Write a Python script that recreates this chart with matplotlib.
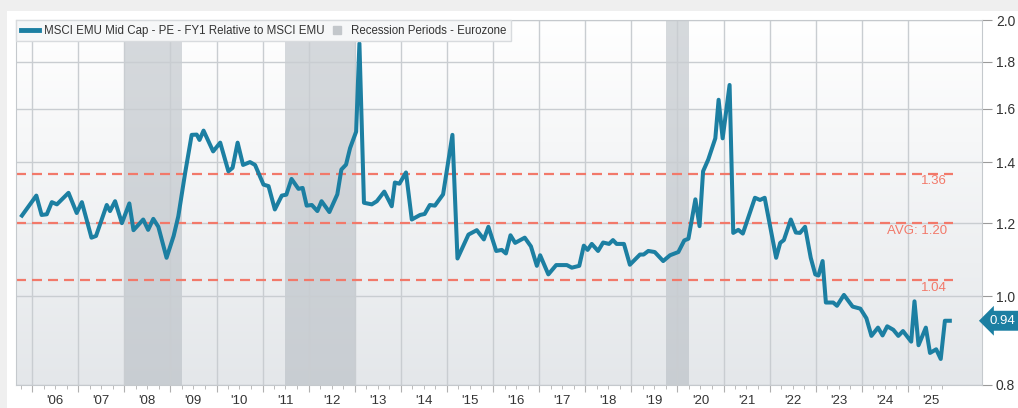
import matplotlib
matplotlib.use('Agg')
import matplotlib.pyplot as plt
import matplotlib.dates as mdates
import matplotlib.ticker as mticker
import numpy as np
import pandas as pd

from matplotlib.colors import LinearSegmentedColormap
from matplotlib.lines import Line2D
from matplotlib.patches import Rectangle
from matplotlib.transforms import blended_transform_factory

plt.rcParams['font.family'] = ['Liberation Sans', 'DejaVu Sans']

# MSCI EMU Mid Cap PE (FY1) relative to MSCI EMU
dates = [
    '2005-10-12', '2006-02-03', '2006-03-17', '2006-04-27', '2006-06-06', '2006-07-16',
    '2006-10-16', '2006-12-20', '2007-01-30', '2007-04-16', '2007-05-22', '2007-08-15',
    '2007-09-10', '2007-10-20', '2007-12-13', '2008-02-10', '2008-03-14', '2008-05-30',
    '2008-07-08', '2008-08-18', '2008-09-27', '2008-12-01', '2009-01-26', '2009-03-04',
    '2009-04-27', '2009-06-18', '2009-07-28', '2009-08-19', '2009-09-20', '2009-12-05',
    '2010-01-30', '2010-04-05', '2010-05-08', '2010-06-17', '2010-07-30', '2010-09-23',
    '2010-11-02', '2011-01-08', '2011-02-17', '2011-04-08', '2011-06-02', '2011-07-08',
    '2011-08-18', '2011-10-12', '2011-11-14', '2011-12-16', '2012-01-26', '2012-03-10',
    '2012-04-12', '2012-06-13', '2012-08-15', '2012-09-16', '2012-10-23', '2012-11-24',
    '2013-01-11', '2013-02-06', '2013-03-14', '2013-05-15', '2013-06-24', '2013-08-22',
    '2013-10-20', '2013-11-14', '2013-12-20', '2014-02-10', '2014-03-28', '2014-06-02',
    '2014-07-08', '2014-08-18', '2014-09-27', '2014-12-01', '2015-02-13', '2015-03-25',
    '2015-06-20', '2015-08-25', '2015-10-20', '2015-11-25', '2016-01-26', '2016-03-10',
    '2016-04-12', '2016-05-18', '2016-06-24', '2016-09-08', '2016-10-27', '2016-12-13',
    '2017-01-08', '2017-03-14', '2017-05-15', '2017-08-08', '2017-09-16', '2017-11-14',
    '2017-12-20', '2018-01-19', '2018-02-21', '2018-04-12', '2018-05-22', '2018-07-08',
    '2018-08-08', '2018-09-06', '2018-11-03', '2018-12-20', '2019-03-10', '2019-04-08',
    '2019-05-15', '2019-07-05', '2019-09-10', '2019-11-03', '2020-01-08', '2020-02-24',
    '2020-03-28', '2020-05-22', '2020-06-24', '2020-07-22', '2020-09-01', '2020-10-27',
    '2020-11-22', '2020-12-24', '2021-02-17', '2021-03-18', '2021-04-27', '2021-06-02',
    '2021-09-06', '2021-10-16', '2021-11-22', '2022-02-21', '2022-03-25', '2022-04-23',
    '2022-06-17', '2022-07-27', '2022-08-29', '2022-10-08', '2022-11-22', '2022-12-28',
    '2023-01-22', '2023-02-24', '2023-03-22', '2023-05-19', '2023-06-18', '2023-08-12',
    '2023-10-20', '2023-12-20', '2024-02-06', '2024-03-17', '2024-05-08', '2024-06-13',
    '2024-07-20', '2024-09-06', '2024-10-16', '2024-11-22', '2025-01-26', '2025-02-21',
    '2025-03-25', '2025-05-22', '2025-06-24', '2025-08-12', '2025-09-17', '2025-10-20',
    '2025-11-28',
]
values = [
    1.224, 1.287, 1.226, 1.228, 1.266, 1.259,
    1.296, 1.232, 1.266, 1.158, 1.163, 1.257,
    1.238, 1.269, 1.201, 1.262, 1.180, 1.212,
    1.181, 1.214, 1.190, 1.101, 1.163, 1.222,
    1.362, 1.499, 1.500, 1.480, 1.515, 1.438,
    1.470, 1.368, 1.380, 1.470, 1.390, 1.400,
    1.390, 1.323, 1.318, 1.243, 1.287, 1.290,
    1.342, 1.309, 1.312, 1.255, 1.257, 1.238,
    1.269, 1.235, 1.291, 1.374, 1.391, 1.450,
    1.511, 1.886, 1.264, 1.259, 1.269, 1.300,
    1.253, 1.330, 1.326, 1.364, 1.212, 1.226,
    1.229, 1.257, 1.255, 1.291, 1.499, 1.099,
    1.167, 1.180, 1.153, 1.190, 1.120, 1.123,
    1.113, 1.165, 1.143, 1.158, 1.133, 1.079,
    1.108, 1.056, 1.081, 1.081, 1.074, 1.079,
    1.135, 1.123, 1.140, 1.120, 1.144, 1.140,
    1.151, 1.140, 1.140, 1.082, 1.110, 1.110,
    1.120, 1.117, 1.092, 1.108, 1.117, 1.150,
    1.155, 1.275, 1.192, 1.368, 1.409, 1.486,
    1.637, 1.486, 1.699, 1.172, 1.181, 1.170,
    1.280, 1.273, 1.280, 1.101, 1.143, 1.151,
    1.212, 1.173, 1.172, 1.190, 1.101, 1.056,
    1.053, 1.092, 0.984, 0.984, 0.976, 1.003,
    0.974, 0.969, 0.946, 0.905, 0.924, 0.906,
    0.927, 0.919, 0.905, 0.916, 0.892, 0.987,
    0.884, 0.924, 0.867, 0.875, 0.854, 0.940,
    0.940,
]

recession_starts = ['2008-01-01', '2011-06-28', '2019-10-01']
recession_ends = ['2009-04-01', '2013-01-05', '2020-04-01']

ref_levels = [1.36, 1.20, 1.04]
ref_labels = ['1.36', 'AVG: 1.20', '1.04']
last_value = 0.94

y_ticks = [0.8, 1.0, 1.2, 1.4, 1.6, 1.8, 2.0]
first_year, last_year = 2006, 2025

LINE_COLOR = '#1c7fa2'
REF_COLOR = '#f2796a'
TEXT_COLOR = '#333333'

dates = pd.to_datetime(dates)
x_left = pd.Timestamp('2005-08-26')
x_right = pd.Timestamp('2026-08-10')
ref_end = pd.Timestamp('2025-12-20')

W, H = 1018, 408
fig = plt.figure(figsize=(W / 100, H / 100), dpi=100, facecolor='#efefef')
fig.patches.append(Rectangle((7 / W, 0), 1, 1 - 11 / H, transform=fig.transFigure,
                             fc='white', ec='none', zorder=-10))

pos = [16 / W, 1 - 385 / H, (982 - 16) / W, (385 - 20) / H]

# Gradient behind the plot area
bg = fig.add_axes(pos, zorder=0)
grad = np.linspace(0, 1, 256).reshape(-1, 1)
bg_cmap = LinearSegmentedColormap.from_list('bg', ['#ffffff', '#e4e7ea'])
bg.imshow(grad, aspect='auto', cmap=bg_cmap, extent=(0, 1, 0, 1), origin='upper')
bg.axis('off')

ax = fig.add_axes(pos, zorder=1)
ax.set_facecolor('none')
ax.set_yscale('log')

for start, end in zip(recession_starts, recession_ends):
    ax.axvspan(pd.Timestamp(start), pd.Timestamp(end), color='#aeb5bc', alpha=0.5, lw=0, zorder=0.5)

for level, label in zip(ref_levels, ref_labels):
    ax.hlines(level, x_left, ref_end, colors=REF_COLOR, linestyles=(0, (4.5, 2.7)), lw=1.6, zorder=2)
    ax.annotate(label, xy=(ref_end, level), xytext=(-4, -5.5), textcoords='offset points',
                ha='right', va='center', fontsize=9.5, color=REF_COLOR, zorder=2)

ax.plot(dates, values, color=LINE_COLOR, lw=2.9, solid_joinstyle='round', zorder=3)

ax.set_xlim(x_left, x_right)
ax.set_ylim(0.8, 2.0)

# y axis on the right
ax.yaxis.tick_right()
ax.yaxis.set_major_locator(mticker.FixedLocator(y_ticks))
ax.yaxis.set_major_formatter(mticker.FormatStrFormatter('%.1f'))
ax.yaxis.set_minor_locator(mticker.NullLocator())
ax.tick_params(axis='y', which='major', length=7, width=0.8, color='#9a9a9a', pad=3,
               labelsize=10, labelcolor=TEXT_COLOR)

# x axis: gridlines at year start, labels mid-year, quarterly ticks
year_starts = pd.date_range(f'{first_year}-01-01', f'{last_year}-01-01', freq='YS')
quarter_ticks = pd.date_range(f'{first_year - 1}-10-01', f'{last_year}-10-01', freq='QS')
quarter_ticks = quarter_ticks[quarter_ticks.month != 1]
ax.xaxis.set_major_locator(mticker.FixedLocator(mdates.date2num(year_starts)))
ax.xaxis.set_major_formatter(mticker.NullFormatter())
ax.xaxis.set_minor_locator(mticker.FixedLocator(mdates.date2num(quarter_ticks)))

def year_label(x, pos):
    d = mdates.num2date(x)
    return d.strftime("'%y") if d.month == 7 else ''

ax.xaxis.set_minor_formatter(mticker.FuncFormatter(year_label))
ax.tick_params(axis='x', which='major', length=5, width=0.8, color='#b0b0b0')
ax.tick_params(axis='x', which='minor', length=3, width=0.6, color='#b0b0b0', pad=4,
               labelsize=9.5, labelcolor=TEXT_COLOR)

ax.grid(which='major', color='#c9cdd1', lw=1.0, zorder=1)
ax.set_axisbelow(True)
for sp in ax.spines.values():
    sp.set_color('#c5c9cd')
    sp.set_linewidth(0.8)

# Last value tag on the right edge (cut by the image edge, as in the source)
trans = blended_transform_factory(ax.transAxes, ax.transData)
ax.annotate(f'{last_value:.2f}', xy=(1, last_value), xycoords=trans, xytext=(8, 0),
            textcoords='offset pixels', ha='left', va='center', fontsize=9.5, color='white',
            bbox=dict(boxstyle='larrow,pad=0.3', fc=LINE_COLOR, ec='none'),
            annotation_clip=False)

handles = [Line2D([], [], color=LINE_COLOR, lw=3.5),
           Line2D([], [], marker='s', ms=6, color='#c3c7cb', ls='none')]
labels = ['MSCI EMU Mid Cap - PE - FY1 Relative to MSCI EMU', 'Recession Periods - Eurozone']
leg = ax.legend(handles, labels, loc='upper left', bbox_to_anchor=(0, 1), borderaxespad=0,
                ncol=2, frameon=True, fancybox=False, facecolor='#f6f7f8', edgecolor='#d8dbde',
                fontsize=8.3, handlelength=1.6, handletextpad=0.4, columnspacing=0.3,
                borderpad=0.4, framealpha=1)
for t in leg.get_texts():
    t.set_color(TEXT_COLOR)
leg.set_zorder(5)

fig.savefig('out.png', dpi=100, facecolor=fig.get_facecolor())
